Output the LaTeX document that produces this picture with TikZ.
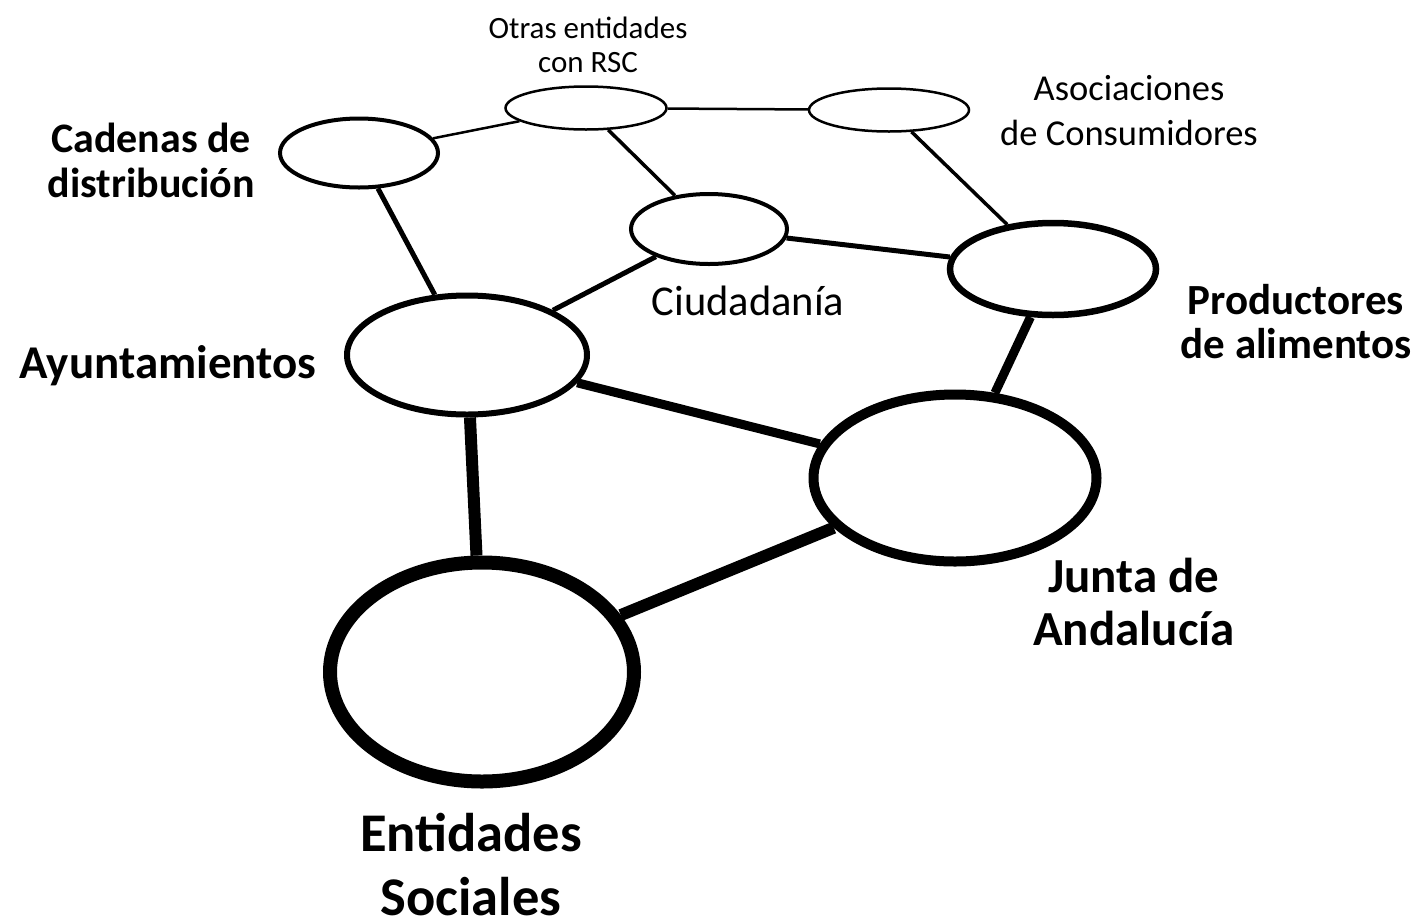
\documentclass[tikz,border=0pt]{standalone}
\usepackage{fontspec}
\setmainfont{Carlito}
\usetikzlibrary{shapes.geometric}
\begin{document}
\begin{tikzpicture}[x=1pt,y=-1pt,
  ell/.style={ellipse,draw,fill=white,inner sep=0pt},
  lab/.style={align=center,inner sep=0pt,anchor=base},
  link/.style={draw,line cap=butt}]
\useasboundingbox (0,0) rectangle (1413,919);
% ellipses
\node[ell,line width=4pt,minimum width=158pt,minimum height=69pt] (cad) at (359,153) {};
\node[ell,line width=2.5pt,minimum width=161pt,minimum height=43pt] (otr) at (586,108) {};
\node[ell,line width=2.5pt,minimum width=160pt,minimum height=43pt] (aso) at (889,110) {};
\node[ell,line width=4pt,minimum width=156pt,minimum height=70pt] (ciu) at (709,229) {};
\node[ell,line width=6.5pt,minimum width=206pt,minimum height=92pt] (pro) at (1053,269) {};
\node[ell,line width=6pt,minimum width=240pt,minimum height=119pt] (ayu) at (467,355) {};
\node[ell,line width=10pt,minimum width=283pt,minimum height=167pt] (jun) at (955,478) {};
\node[ell,line width=14pt,minimum width=304pt,minimum height=219pt] (ent) at (482,672) {};
% connectors
\draw[link,line width=2.5pt] (cad) -- (otr);
\draw[link,line width=2.5pt] (otr) -- (aso);
\draw[link,line width=3.5pt] (otr) -- (ciu);
\draw[link,line width=3.5pt] (aso) -- (pro);
\draw[link,line width=5pt] (cad) -- (ayu);
\draw[link,line width=5pt] (ciu) -- (ayu);
\draw[link,line width=5pt] (ciu) -- (pro);
\draw[link,line width=9pt] (pro) -- (jun);
\draw[link,line width=9pt] (ayu) -- (jun);
\draw[link,line width=12pt] (ayu) -- (ent);
\draw[link,line width=12pt] (jun) -- (ent);
% labels (anchored at the baseline of the last line)
\node[lab,font=\fontsize{42}{45}\selectfont\bfseries] (lcad) at (151,197) {Cadenas de\\distribución};
\node[lab,font=\fontsize{31}{34}\selectfont] (lotr) at (588,72) {Otras entidades\\con RSC};
\node[lab,font=\fontsize{36.5}{45}\selectfont] (laso) at (1129,145) {Asociaciones\\de Consumidores};
\node[lab,font=\fontsize{42.5}{40}\selectfont] (lciu) at (748,315) {Ciudadanía};
\node[lab,font=\fontsize{43}{44}\selectfont\bfseries] (lpro) at (1296,358) {Productores\\de alimentos};
\node[lab,font=\fontsize{47}{40}\selectfont\bfseries] (layu) at (168,378) {Ayuntamientos};
\node[lab,font=\fontsize{49}{53}\selectfont\bfseries] (ljun) at (1134,645) {Junta de\\Andalucía};
\node[lab,font=\fontsize{54.5}{64}\selectfont\bfseries] (lent) at (471,915) {Entidades\\Sociales};
\end{tikzpicture}
\end{document}
